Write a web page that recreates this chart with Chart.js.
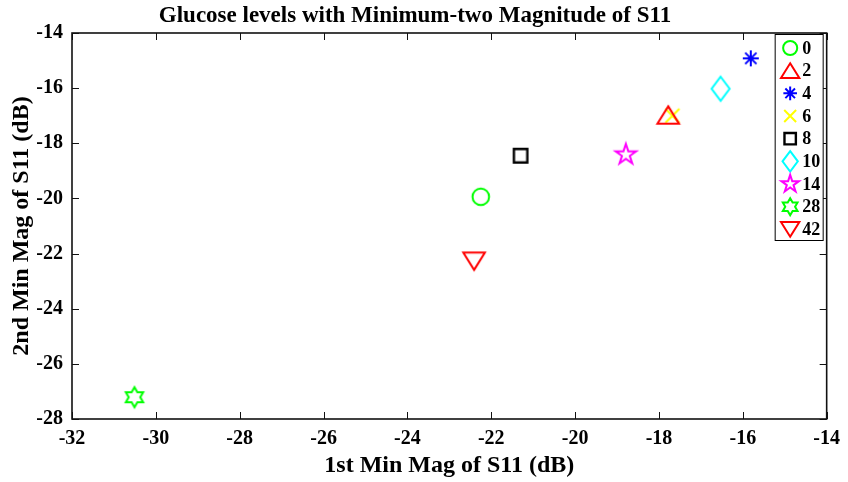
<!DOCTYPE html>
<html>
<head>
<meta charset="utf-8">
<script src="https://cdn.jsdelivr.net/npm/chart.js@4/dist/chart.umd.min.js"></script>
<style>
html, body { margin: 0; padding: 0; background: #fff; }
</style>
</head>
<body>
<canvas id="chart" width="848" height="482"></canvas>
<script>
// glucose level groups and the two S11 minima
const glucoseLabels = ['0', '2', '4', '6', '8', '10', '14', '28', '42'];
const firstMinMag = [-22.25, -17.78, -15.81, -17.68, -21.30, -16.53, -18.79, -30.51, -22.41];
const secondMinMag = [-19.94, -16.97, -14.92, -17.00, -18.45, -16.02, -18.41, -27.21, -22.28];
const xTickValues = [-32, -30, -28, -26, -24, -22, -20, -18, -16, -14];
const yTickValues = [-28, -26, -24, -22, -20, -18, -16, -14];

const markerKinds = ['circle', 'triUp', 'asterisk', 'cross', 'square', 'diamond', 'pentagram', 'hexagram', 'triDown'];
const markerColors = ['#00ff00', '#ff0000', '#0000ff', '#ffff00', '#000000', '#00ffff', '#ff00ff', '#00ff00', '#ff0000'];

const FONT = "'Liberation Serif', 'Times New Roman', serif";

function starPath(ctx, cx, cy, n, outer, inner) {
    for (let i = 0; i < n * 2; i++) {
        const a = -Math.PI / 2 + i * Math.PI / n;
        const r = i % 2 === 0 ? outer : inner;
        const px = cx + r * Math.cos(a), py = cy + r * Math.sin(a);
        if (i === 0) ctx.moveTo(px, py); else ctx.lineTo(px, py);
    }
    ctx.closePath();
}

function drawMarker(ctx, kind, cx, cy, s, color) {
    ctx.save();
    ctx.strokeStyle = color;
    ctx.lineWidth = 2;
    ctx.beginPath();
    if (kind === 'circle') {
        ctx.arc(cx, cy, 8.3 * s, 0, Math.PI * 2);
    } else if (kind === 'triUp' || kind === 'triDown') {
        const w = 10.8 * s, h = 17.3 * s, d = kind === 'triUp' ? 1 : -1;
        ctx.moveTo(cx, cy - d * h / 2);
        ctx.lineTo(cx + w, cy + d * h / 2);
        ctx.lineTo(cx - w, cy + d * h / 2);
        ctx.closePath();
    } else if (kind === 'asterisk') {
        const r = 8 * s;
        for (let k = 0; k < 4; k++) {
            const a = k * Math.PI / 4;
            ctx.moveTo(cx - r * Math.cos(a), cy - r * Math.sin(a));
            ctx.lineTo(cx + r * Math.cos(a), cy + r * Math.sin(a));
        }
    } else if (kind === 'cross') {
        const r = 7 * s;
        ctx.moveTo(cx - r, cy - r); ctx.lineTo(cx + r, cy + r);
        ctx.moveTo(cx + r, cy - r); ctx.lineTo(cx - r, cy + r);
    } else if (kind === 'square') {
        const h = 6.7 * s;
        ctx.lineWidth = 2.4;
        ctx.rect(cx - h, cy - h, 2 * h, 2 * h);
    } else if (kind === 'diamond') {
        const w = 9 * s, h = 12 * s;
        ctx.moveTo(cx, cy - h); ctx.lineTo(cx + w, cy); ctx.lineTo(cx, cy + h); ctx.lineTo(cx - w, cy);
        ctx.closePath();
    } else if (kind === 'pentagram') {
        starPath(ctx, cx, cy, 5, 10.8 * s, 10.8 * s * 0.382);
    } else if (kind === 'hexagram') {
        starPath(ctx, cx, cy, 6, 10 * s, 10 * s * 0.577);
    }
    ctx.stroke();
    ctx.restore();
}

function markerImage(kind, color) {
    const c = document.createElement('canvas');
    c.width = 32;
    c.height = 32;
    drawMarker(c.getContext('2d'), kind, 16, 16, 1, color);
    return c;
}

const datasets = glucoseLabels.map((lab, i) => ({
    label: lab,
    data: [{ x: firstMinMag[i], y: secondMinMag[i] }],
    pointStyle: markerImage(markerKinds[i], markerColors[i]),
    pointRadius: 10,
    pointHoverRadius: 10,
    markerKind: markerKinds[i],
    markerColor: markerColors[i]
}));

const matlabFrame = {
    id: 'matlabFrame',
    beforeDatasetsDraw(chart) {
        const { ctx, chartArea: a, scales } = chart;
        ctx.save();
        ctx.strokeStyle = '#111';
        ctx.lineWidth = 1;
        ctx.beginPath();
        for (const v of xTickValues) {
            const px = Math.round(scales.x.getPixelForValue(v)) + 0.5;
            ctx.moveTo(px, a.bottom); ctx.lineTo(px, a.bottom - 7);
            ctx.moveTo(px, a.top); ctx.lineTo(px, a.top + 7);
        }
        for (const v of yTickValues) {
            const py = Math.round(scales.y.getPixelForValue(v)) + 0.5;
            ctx.moveTo(a.left, py); ctx.lineTo(a.left + 7, py);
            ctx.moveTo(a.right, py); ctx.lineTo(a.right - 7, py);
        }
        ctx.stroke();
        ctx.lineWidth = 1.6;
        ctx.strokeRect(a.left, a.top, a.right - a.left, a.bottom - a.top);
        ctx.restore();
    },
    afterDatasetsDraw(chart) {
        const { ctx, chartArea: a } = chart;
        const lx = a.right - 51.5, ly = a.top + 1.5, lw = 48, lh = 206;
        ctx.save();
        ctx.fillStyle = '#fff';
        ctx.fillRect(lx, ly, lw, lh);
        ctx.strokeStyle = '#000';
        ctx.lineWidth = 1;
        ctx.strokeRect(lx, ly, lw, lh);
        ctx.font = 'bold 18px ' + FONT;
        ctx.fillStyle = '#000';
        ctx.textBaseline = 'middle';
        ctx.textAlign = 'left';
        chart.data.datasets.forEach((ds, i) => {
            const ry = ly + 13.5 + i * 22.67;
            drawMarker(ctx, ds.markerKind, lx + 15, ry, 0.85, ds.markerColor);
            ctx.fillText(ds.label, lx + 27, ry + 1);
        });
        ctx.restore();
    }
};

new Chart(document.getElementById('chart'), {
    type: 'scatter',
    data: { datasets },
    plugins: [matlabFrame],
    options: {
        responsive: false,
        animation: false,
        devicePixelRatio: 1,
        layout: { padding: { left: 0, right: 18, top: 0, bottom: 0 } },
        plugins: {
            legend: { display: false },
            tooltip: { enabled: false },
            title: {
                display: true,
                text: 'Glucose levels with Minimum-two Magnitude of S11',
                color: '#000',
                font: { family: FONT, size: 23, weight: 'bold' },
                padding: { top: 2, bottom: 3.4 }
            }
        },
        scales: {
            x: {
                type: 'linear',
                min: -32,
                max: -14,
                afterBuildTicks: s => { s.ticks = xTickValues.map(v => ({ value: v })); },
                afterFit: s => { s.height = 63; },
                grid: { display: false, drawTicks: false, tickLength: 0 },
                border: { display: false },
                ticks: { color: '#000', padding: 8, font: { family: FONT, size: 20, weight: 'bold' } },
                title: {
                    display: true,
                    text: '1st Min Mag of S11 (dB)',
                    color: '#000',
                    font: { family: FONT, size: 24, weight: 'bold' },
                    padding: { top: 0, bottom: 2 }
                }
            },
            y: {
                type: 'linear',
                min: -28,
                max: -14,
                afterBuildTicks: s => { s.ticks = yTickValues.map(v => ({ value: v })); },
                afterFit: s => { s.width = 72; },
                grid: { display: false, drawTicks: false, tickLength: 0 },
                border: { display: false },
                ticks: { color: '#000', padding: 9, font: { family: FONT, size: 20, weight: 'bold' } },
                title: {
                    display: true,
                    text: '2nd Min Mag of S11 (dB)',
                    color: '#000',
                    font: { family: FONT, size: 24, weight: 'bold' },
                    padding: { top: 7, bottom: 0 }
                }
            }
        }
    }
});
</script>
</body>
</html>
